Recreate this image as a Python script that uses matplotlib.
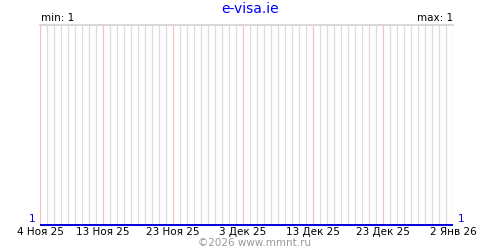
import numpy as np
import pandas as pd
import matplotlib
matplotlib.use("Agg")
import matplotlib.pyplot as plt

# daily values, 4 Nov 2025 .. 2 Jan 2026
start_date = "2025-11-04"
values = [1, 1, 1, 1, 1, 1, 1, 1, 1, 1,
          1, 1, 1, 1, 1, 1, 1, 1, 1, 1,
          1, 1, 1, 1, 1, 1, 1, 1, 1, 1,
          1, 1, 1, 1, 1, 1, 1, 1, 1, 1,
          1, 1, 1, 1, 1, 1, 1, 1, 1, 1,
          1, 1, 1, 1, 1, 1, 1, 1, 1, 1]
tick_days = [0, 9, 19, 29, 39, 49, 59]
tick_labels = ["4 Ноя 25", "13 Ноя 25", "23 Ноя 25", "3 Дек 25",
               "13 Дек 25", "23 Дек 25", "2 Янв 26"]
title = "e-visa.ie"
footer = "©2026 www.mmnt.ru"

days = np.arange(len(values))
vmin, vmax = min(values), max(values)

fig = plt.figure(figsize=(5, 2.5), dpi=100)
ax = fig.add_axes([40 / 500, 25 / 250, 413 / 500, 200 / 250])

# daily grid, pink at labelled dates
for d in days:
    c = "#ffbcbc" if int(d) in tick_days else "#dcdcdc"
    ax.axvline(d, color=c, lw=0.9, zorder=1, snap=True)
ax.axhline(vmax + 1, color="#d8d8d8", lw=1.4, zorder=1, snap=True, clip_on=False)

ax.plot(days, values, color="#0000dd", lw=1.4, zorder=3,
        solid_capstyle="butt", clip_on=False)

ax.set_xlim(0, len(values) - 1)
ax.set_ylim(vmin, vmax + 1)
for s in ax.spines.values():
    s.set_visible(False)
ax.set_yticks([])
ax.set_xticks(tick_days)
ax.set_xticklabels(tick_labels, fontsize=7.5)
ax.tick_params(axis="x", length=0, pad=1.5)

ax.text(-0.012, 0.005, str(values[0]), transform=ax.transAxes, color="#0000dd",
        fontsize=7.5, ha="right", va="bottom")
ax.text(1.012, 0.005, str(values[-1]), transform=ax.transAxes, color="#0000dd",
        fontsize=7.5, ha="left", va="bottom")
ax.text(0.002, 1.012, f"min: {vmin}", transform=ax.transAxes, fontsize=7.5,
        ha="left", va="bottom")
ax.text(1.0, 1.012, f"max: {vmax}", transform=ax.transAxes, fontsize=7.5,
        ha="right", va="bottom")

fig.text(0.5, 1 - 9 / 250, title, color="#0000ff", fontsize=10,
         ha="center", va="center")
fig.text(0.51, 7 / 250, footer, color="#999999", fontsize=7.5,
         ha="center", va="center")

fig.savefig("out.png", dpi=100)
